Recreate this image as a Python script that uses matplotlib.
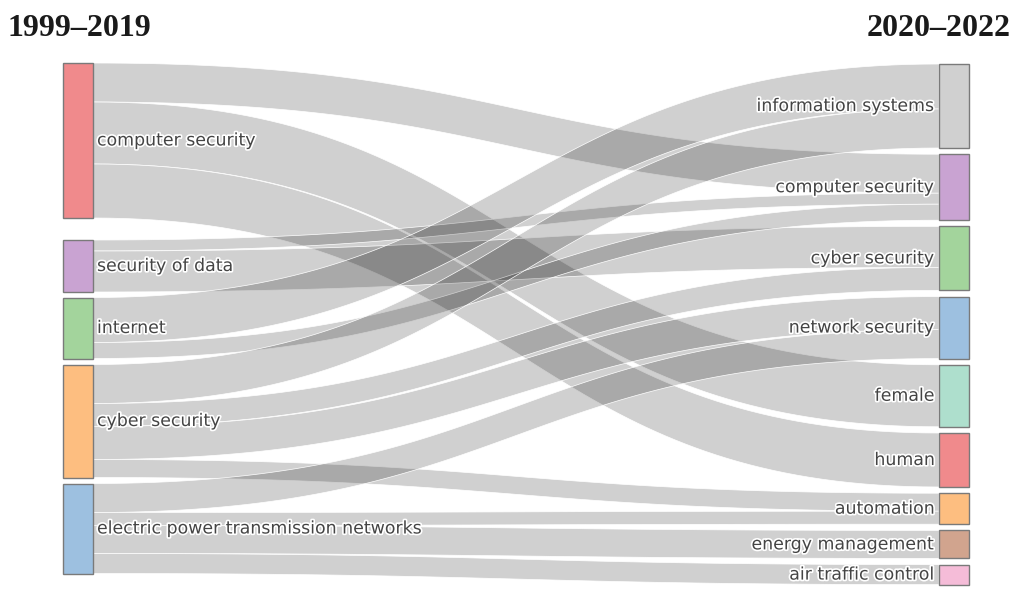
#!/usr/bin/env python3
import numpy as np
import matplotlib
matplotlib.use("Agg")
import matplotlib.pyplot as plt
from matplotlib.patches import Rectangle, Polygon
import matplotlib.patheffects as pe

# nodes, 1999-2019 (left) and 2020-2022 (right)
left_labels = ["computer security", "security of data", "internet",
               "cyber security", "electric power transmission networks"]
right_labels = ["information systems", "computer security", "cyber security",
                "network security", "female", "human", "automation",
                "energy management", "air traffic control"]

# links: source index (left), target index (right), weight
link_src = [0, 0, 0, 1, 1, 2, 2, 3, 3, 3, 3, 4, 4, 4, 4]
link_tgt = [1, 4, 5, 1, 2, 0, 1, 0, 2, 3, 6, 3, 6, 7, 8]
link_val = [39, 62, 54, 11, 41, 45, 16, 39, 23, 33, 18, 29, 13, 28, 20]

left_colors = ["#f08a8c", "#c9a3d2", "#a3d49c", "#fdbe80", "#9dc0e0"]
right_colors = ["#d0d0d0", "#c9a3d2", "#a3d49c", "#9dc0e0", "#aedfcd",
                "#f08a8c", "#fdbe80", "#d1a48e", "#f5bcd8"]

W, H = 1020, 590
fig = plt.figure(figsize=(W / 100, H / 100), dpi=100)
ax = fig.add_axes([0, 0, 1, 1])
ax.set_xlim(0, W)
ax.set_ylim(H, 0)
ax.axis("off")

# layout (pixels)
node_w = 30
xl, xr = 63, 939
left_top, left_gaps = 63, [22, 5.5, 6, 6]
right_top, right_gap = 64, 6.2

src = np.array(link_src)
tgt = np.array(link_tgt)
val = np.array(link_val, dtype=float)

left_sum = np.array([val[src == i].sum() for i in range(len(left_labels))])
right_sum = np.array([val[tgt == j].sum() for j in range(len(right_labels))])

left_y = []
y = left_top
for i, v in enumerate(left_sum):
    left_y.append(y)
    if i < len(left_gaps):
        y += v + left_gaps[i]
right_y = []
y = right_top
for v in right_sum:
    right_y.append(y)
    y += v + right_gap

# link offsets: at source ordered by target, at target ordered by source
src_off = {}
for i in range(len(left_labels)):
    y = left_y[i]
    for k in sorted(np.where(src == i)[0], key=lambda k: tgt[k]):
        src_off[k] = y
        y += val[k]
tgt_off = {}
for j in range(len(right_labels)):
    y = right_y[j]
    for k in sorted(np.where(tgt == j)[0], key=lambda k: src[k]):
        tgt_off[k] = y
        y += val[k]

x0, x1 = xl + node_w, xr
t = np.linspace(0, 1, 80)
def bez(ya, yb):
    xm0 = x0 + (x1 - x0) * 0.5
    xm1 = x1 - (x1 - x0) * 0.5
    xs = (1-t)**3*x0 + 3*(1-t)**2*t*xm0 + 3*(1-t)*t**2*xm1 + t**3*x1
    ys = (1-t)**3*ya + 3*(1-t)**2*t*ya + 3*(1-t)*t**2*yb + t**3*yb
    return xs, ys

for k in range(len(val)):
    a, b = src_off[k], tgt_off[k]
    xs, ys_top = bez(a, b)
    _, ys_bot = bez(a + val[k], b + val[k])
    pts = np.vstack([np.column_stack([xs, ys_top]),
                     np.column_stack([xs[::-1], ys_bot[::-1]])])
    ax.add_patch(Polygon(pts, closed=True, facecolor=(0, 0, 0, 0.185),
                         edgecolor="white", linewidth=0.5, zorder=1))

shadow = [pe.withStroke(linewidth=2.4, foreground="white")]
for i, lab in enumerate(left_labels):
    ax.add_patch(Rectangle((xl, left_y[i]), node_w, left_sum[i],
                           facecolor=left_colors[i], edgecolor="#7a7a7a",
                           linewidth=1, zorder=2))
    ax.text(xl + node_w + 4, left_y[i] + left_sum[i] / 2, lab,
            ha="left", va="center", fontsize=12.5, color="#444444",
            family="DejaVu Sans", path_effects=shadow, zorder=3)
for j, lab in enumerate(right_labels):
    ax.add_patch(Rectangle((xr, right_y[j]), node_w, right_sum[j],
                           facecolor=right_colors[j], edgecolor="#7a7a7a",
                           linewidth=1, zorder=2))
    ax.text(xr - 4, right_y[j] + right_sum[j] / 2, lab,
            ha="right", va="center", fontsize=12.5, color="#444444",
            family="DejaVu Sans", path_effects=shadow, zorder=3)

ax.text(8, 28, "1999\u20132019", ha="left", va="center", fontsize=23,
        fontweight="bold", family="Liberation Serif", color="#1a1a1a")
ax.text(1011, 28, "2020\u20132022", ha="right", va="center", fontsize=23,
        fontweight="bold", family="Liberation Serif", color="#1a1a1a")

fig.savefig("out.png", dpi=100)
